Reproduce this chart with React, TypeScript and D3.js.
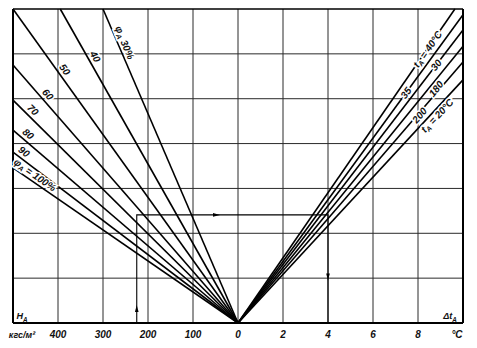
import React from "react";
import * as d3 from "d3";

const W = 477;
const H = 348;

// axis values
const hTickValues = [400, 300, 200, 100, 0];
const dtTickValues = [2, 4, 6, 8];
const hGridValues = [400, 300, 200, 100];
const dtGridValues = [2, 4, 6, 8];
const yGridValues = [1, 2, 3, 4, 5, 6];

// left family: relative humidity lines (outer end points, H in kgf/m², y in grid units)
const phiLabelText = ["φ_A 30%", "40", "50", "60", "70", "80", "90", "φ_A = 100%"];
const phiEndH = [300, 395, 500, 500, 500, 500, 500, 500];
const phiEndY = [7, 7, 7, 5.75, 4.97, 4.3, 3.81, 3.46];

// right family: temperature lines (outer end points, Δt in °C, y in grid units)
const tLabelText = ["t_A = 40°C", "35", "30", "180", "200", "t_A = 20°C"];
const tEndDt = [9.64, 10, 10, 10, 10, 10];
const tEndY = [7, 6.87, 6.53, 6.17, 5.82, 5.42];

// example key path
const keyH = 225;
const keyDt = 4;
const keyY = 2.41;

// layout (label placement)
const phiLabelDist = [39.5, 58.6, 79.4, 45, 21, 14, 8.5, 22];
const phiLabelOff = 7;
const tLabelPy = [49, 93, 65, 85, 114, 112];
const tLabelOff = [0, 0, 0, 6, 2, 5];

const FONT = "'Liberation Sans', Arial, sans-serif";

function Label({ text, x, y, angle, size = 10, halo = true }: any) {
  const parts = text.split("_A");
  return (
    <text
      transform={`translate(${x},${y}) rotate(${angle})`}
      textAnchor="middle"
      dominantBaseline="central"
      fontFamily={FONT}
      fontStyle="italic"
      fontWeight="bold"
      fontSize={size}
      fill="#111"
      stroke={halo ? "#fff" : "none"}
      strokeWidth={halo ? 3 : 0}
      style={{ paintOrder: "stroke" }}
    >
      {parts[0]}
      {parts.length > 1 && (
        <>
          <tspan fontSize={size * 0.7} dy={2.5}>A</tspan>
          <tspan dy={-2.5}>{parts[1]}</tspan>
        </>
      )}
    </text>
  );
}

export default function App() {
  const xL = d3.scaleLinear().domain([500, 0]).range([13, 238]);
  const xR = d3.scaleLinear().domain([0, 10]).range([238, 463]);
  const y = d3.scaleLinear().domain([0, 7]).range([323, 9]);
  const ox = xL(0);
  const oy = y(0);
  const line = d3.line();

  const gridColor = "#2a2a2a";

  return (
    <svg
      width={W}
      height={H}
      style={{ position: "absolute", left: 0, top: 0, background: "#fff" }}
    >
      <rect x={0} y={0} width={W} height={H} fill="#fff" />
      {/* grid */}
      <g stroke={gridColor} strokeWidth={1}>
        {hGridValues.map((v) => (
          <line key={"hl" + v} x1={xL(v)} x2={xL(v)} y1={y(7)} y2={y(0)} />
        ))}
        <line x1={ox} x2={ox} y1={y(7)} y2={y(0)} />
        {dtGridValues.map((v) => (
          <line key={"dr" + v} x1={xR(v)} x2={xR(v)} y1={y(7)} y2={y(0)} />
        ))}
        {yGridValues.map((v) => (
          <line key={"yg" + v} x1={xL(500)} x2={xR(10)} y1={y(v)} y2={y(v)} />
        ))}
      </g>
      {/* frame */}
      <g stroke="#000" fill="none">
        <line x1={xL(500)} x2={xR(10)} y1={y(7)} y2={y(7)} strokeWidth={1.6} />
        <line x1={xL(500)} x2={xR(10)} y1={y(0)} y2={y(0)} strokeWidth={2} />
        <line x1={xL(500)} x2={xL(500)} y1={y(7)} y2={y(0)} strokeWidth={2} />
        <line x1={xR(10)} x2={xR(10)} y1={y(7)} y2={y(0)} strokeWidth={2} />
      </g>
      {/* key path */}
      <g stroke="#000" strokeWidth={1.1} fill="none">
        <path
          d={
            line([
              [xL(keyH), y(0)],
              [xL(keyH), y(keyY)],
              [xR(keyDt), y(keyY)],
              [xR(keyDt), y(0)],
            ] as any) as string
          }
        />
      </g>
      <g fill="#000">
        <path d={`M${xL(keyH)},${y(0.4)} l-1.8,7 l3.6,0 z`} />
        <path d={`M${xL(40)},${y(keyY)} l-7,-1.8 l0,3.6 z`} />
        <path d={`M${xR(keyDt)},${y(0.95)} l-1.8,-7 l3.6,0 z`} />
      </g>
      {/* family lines */}
      <g stroke="#000" strokeWidth={1.6} fill="none">
        {phiEndH.map((h, i) => (
          <line key={"p" + i} x1={ox} y1={oy} x2={xL(h)} y2={y(phiEndY[i])} />
        ))}
        {tEndDt.map((d, i) => (
          <line key={"t" + i} x1={ox} y1={oy} x2={xR(d)} y2={y(tEndY[i])} />
        ))}
      </g>
      {/* phi labels */}
      {phiLabelText.map((t, i) => {
        const ex = xL(phiEndH[i]);
        const ey = y(phiEndY[i]);
        const dx = ox - ex;
        const dy = oy - ey;
        const len = Math.hypot(dx, dy);
        const ux = dx / len;
        const uy = dy / len;
        const px = ex + ux * phiLabelDist[i] + uy * phiLabelOff;
        const py = ey + uy * phiLabelDist[i] - ux * phiLabelOff;
        const ang = (Math.atan2(dy, dx) * 180) / Math.PI;
        return <Label key={"pl" + i} text={t} x={px} y={py} angle={ang} />;
      })}
      {/* t labels */}
      {tLabelText.map((t, i) => {
        const ex = xR(tEndDt[i]);
        const ey = y(tEndY[i]);
        const dx = ex - ox;
        const dy = ey - oy;
        const len = Math.hypot(dx, dy);
        const ux = dx / len;
        const uy = dy / len;
        const f = (oy - tLabelPy[i]) / (oy - ey);
        const px = ox + dx * f - uy * tLabelOff[i];
        const py = oy + dy * f + ux * tLabelOff[i];
        const ang = (Math.atan2(dy, dx) * 180) / Math.PI;
        return <Label key={"tl" + i} text={t} x={px} y={py} angle={ang} />;
      })}
      {/* axis titles inside */}
      <Label text="H_A" x={xL(500) + 9} y={y(0) - 7} angle={0} size={9} halo={false} />
      <Label text="Δt_A" x={xR(10) - 13} y={y(0) - 7} angle={0} size={9} halo={false} />
      {/* tick labels */}
      <g fontFamily={FONT} fontStyle="italic" fontWeight="bold" fontSize={10} fill="#111" textAnchor="middle">
        {hTickValues.map((v) => (
          <text key={"ht" + v} x={xL(v)} y={338}>
            {v}
          </text>
        ))}
        {dtTickValues.map((v) => (
          <text key={"dt" + v} x={xR(v)} y={338}>
            {v}
          </text>
        ))}
        <text x={xR(10) - 6} y={338}>°C</text>
        <text x={xL(500) + 9} y={338} fontSize={9}>
          кгс/м²
        </text>
      </g>
    </svg>
  );
}
